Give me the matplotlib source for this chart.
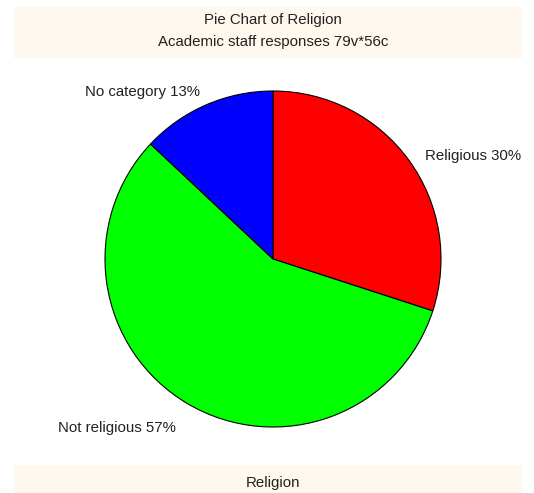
import matplotlib
matplotlib.use("Agg")
import matplotlib.pyplot as plt
from matplotlib.patches import Rectangle

plt.rcParams['font.family'] = ['Liberation Sans', 'DejaVu Sans']

categories = ["Religious", "Not religious", "No category"]
shares = [30, 57, 13]
colours = ["#ff0000", "#00ff00", "#0000ff"]
labels = ["%s %d%%" % (c, s) for c, s in zip(categories, shares)]

W, H = 534, 493
fs = 10.8
fig = plt.figure(figsize=(W / 100, H / 100), dpi=100)
fig.patch.set_facecolor("white")

band = "#fff8ee"
# title band and bottom band
fig.patches.append(Rectangle((14 / W, 1 - 58 / H), 508 / W, 51 / H, transform=fig.transFigure,
                             facecolor=band, edgecolor="none", zorder=0))
fig.patches.append(Rectangle((14 / W, 0), 508 / W, 28 / H, transform=fig.transFigure,
                             facecolor=band, edgecolor="none", zorder=0))
fig.text(273 / W, 1 - 20 / H, "Pie Chart of Religion", ha="center", va="center", fontsize=fs, color="#222222")
fig.text(273 / W, 1 - 42 / H, "Academic staff responses 79v*56c", ha="center", va="center", fontsize=fs, color="#222222")
fig.text(273 / W, 10 / H, "Religion", ha="center", va="center", fontsize=fs, color="#222222")

# pie axes: centre (273, 259), radius 168 px
ax = fig.add_axes([105 / W, 1 - 427 / H, 336 / W, 336 / H])
wedges, texts = ax.pie(shares, labels=labels, colors=colours, startangle=90, counterclock=False,
                       labeldistance=1.1, radius=1,
                       wedgeprops=dict(edgecolor="black", linewidth=0.8),
                       textprops=dict(fontsize=fs, color="#222222"))
# small nudges (in pixels) so labels sit where the original had them
nudges = [(2, -6), (-3, -10), (0, -3)]
for t, (dx, dy) in zip(texts, nudges):
    x, y = t.get_position()
    t.set_position((x + dx / 168, y + dy / 168))
ax.set_xlim(-1, 1)
ax.set_ylim(-1, 1)
ax.set_aspect("equal")
ax.axis("off")

fig.savefig("out.png", dpi=100)
